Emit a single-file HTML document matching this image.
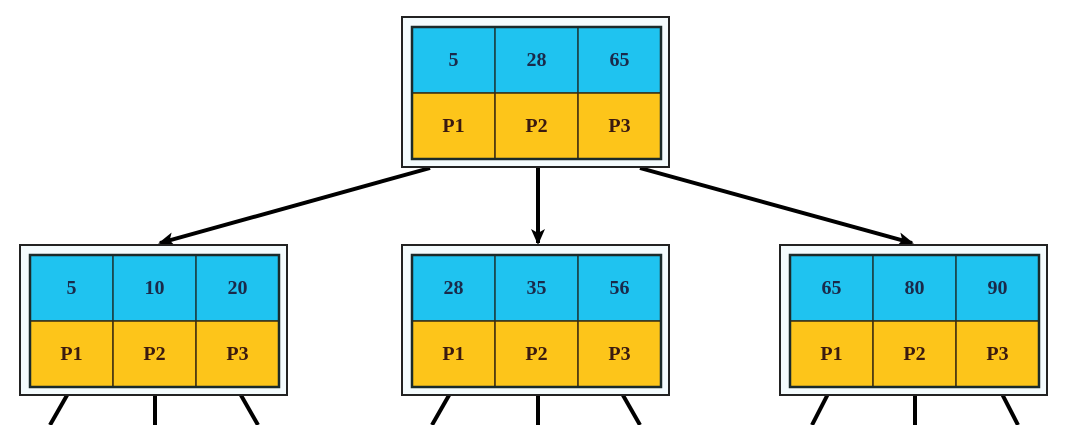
<!DOCTYPE html>
<html><head><meta charset="utf-8"><style>
html,body{margin:0;padding:0;background:#fff;width:1086px;height:425px;overflow:hidden}
svg text{font-family:"Liberation Serif",serif;font-weight:bold;font-size:20px;text-anchor:middle;dominant-baseline:central}
</style></head><body>
<svg width="1086" height="425">
<defs><marker id="ah" markerWidth="16" markerHeight="14" refX="14" refY="7" orient="auto" markerUnits="userSpaceOnUse"><path d="M0,0 L16,7 L0,14 L4,7 z" fill="#000"/></marker></defs>
<g stroke="#000" stroke-width="4">
<line x1="430" y1="168" x2="160" y2="243" marker-end="url(#ah)"/>
<line x1="538" y1="168" x2="538" y2="243" marker-end="url(#ah)"/>
<line x1="640" y1="168" x2="912" y2="243" marker-end="url(#ah)"/>
<line x1="70" y1="390" x2="50" y2="425"/><line x1="155" y1="390" x2="155" y2="425"/><line x1="238" y1="390" x2="258" y2="425"/>
<line x1="452" y1="390" x2="432" y2="425"/><line x1="538" y1="390" x2="538" y2="425"/><line x1="620" y1="390" x2="640" y2="425"/>
<line x1="830" y1="390" x2="812" y2="425"/><line x1="915" y1="390" x2="915" y2="425"/><line x1="1000" y1="390" x2="1018" y2="425"/>
</g>
<g id="nodes"></g>
</svg>
<script>
const nodes=[
 {name:'root-node',x:402,y:17,keys:['5','28','65']},
 {name:'left-node',x:20,y:245,keys:['5','10','20']},
 {name:'middle-node',x:402,y:245,keys:['28','35','56']},
 {name:'right-node',x:780,y:245,keys:['65','80','90']}
];
const ptrs=['P1','P2','P3'];
const NS='http://www.w3.org/2000/svg';
const g=document.getElementById('nodes');
function mk(t,a,p){const e=document.createElementNS(NS,t);for(const k in a)e.setAttribute(k,a[k]);p.appendChild(e);return e;}
nodes.forEach(n=>{
 const ng=mk('g',{},g);
 
 
 mk('rect',{x:n.x,y:n.y,width:267,height:150,fill:'#f4fbfd',stroke:'#222','stroke-width':2},ng);
 const ix=n.x+10,iy=n.y+10,cw=83,rh=66;
 for(let i=0;i<3;i++){
  const c=mk('rect',{x:ix+i*cw,y:iy,width:cw,height:rh,fill:'#1fc3f0',stroke:'#1a3a3a','stroke-width':1.5},ng);
  
  
  const t=mk('text',{x:ix+i*cw+cw/2,y:iy+rh/2,fill:'#1a2a4a'},ng);t.textContent=n.keys[i];
  
  
  const p=mk('rect',{x:ix+i*cw,y:iy+rh,width:cw,height:rh,fill:'#fdc51a',stroke:'#3a2a10','stroke-width':1.5},ng);
  
  
  const pt=mk('text',{x:ix+i*cw+cw/2,y:iy+rh*1.5,fill:'#3a1a10'},ng);pt.textContent=ptrs[i];
  
  
 }
 mk('rect',{x:ix,y:iy,width:cw*3,height:rh*2,fill:'none',stroke:'#1a2a2a','stroke-width':2.5},ng);
});
</script>
</body></html>
